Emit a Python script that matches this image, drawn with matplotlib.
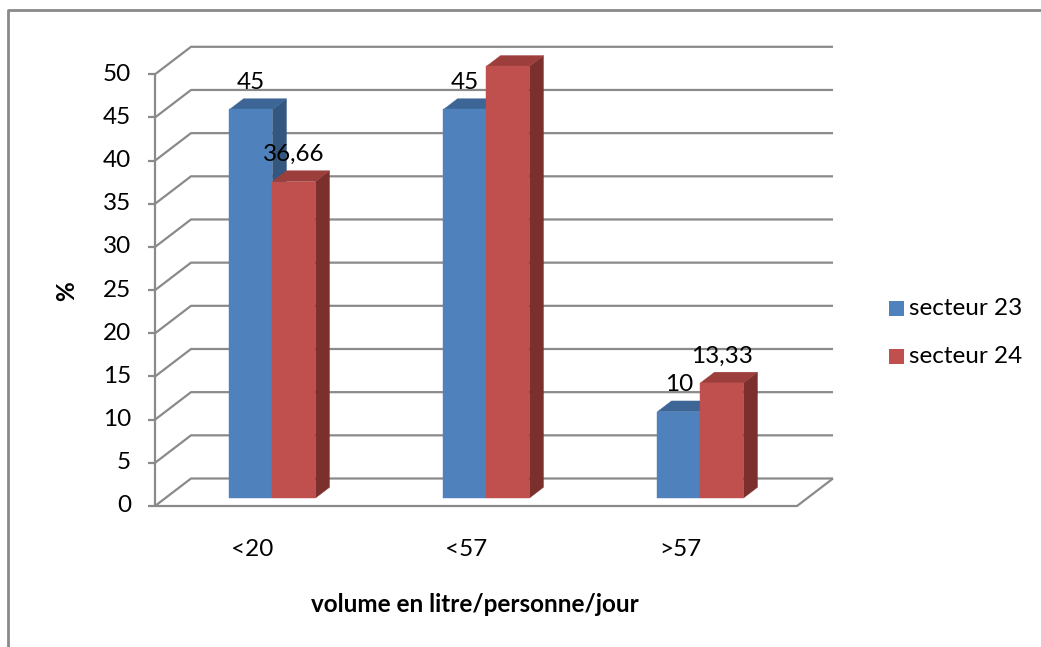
import matplotlib.pyplot as plt
from matplotlib.patches import Polygon, Rectangle
from matplotlib.lines import Line2D
from matplotlib.transforms import ScaledTranslation

plt.rcParams['font.family'] = ['Lato', 'DejaVu Sans']

categories = ['<20', '<57', '>57']
series_names = ['secteur 23', 'secteur 24']
secteur_23 = [45, 45, 10]
secteur_24 = [36.66, 50, 13.33]
value_labels_23 = ['45', '45', '10']
value_labels_24 = ['36,66', '50', '13,33']
yticks = [0, 5, 10, 15, 20, 25, 30, 35, 40, 45, 50]

FS = 17.5
W, H = 1041, 647
fig = plt.figure(figsize=(W / 100, H / 100), dpi=100)
fig.patch.set_facecolor('white')

# front plane of the 3d box (pixels)
left_px, right_px, bottom_px, top_px = 155, 797, 506, 74.3
ax = fig.add_axes([left_px / W, (H - bottom_px) / H,
                   (right_px - left_px) / W, (bottom_px - top_px) / H])
ax.set_xlim(-0.5, 2.5)
ax.set_ylim(0, 50)
ax.axis('off')

px_x = 3.0 / (right_px - left_px)
px_y = 50.0 / (bottom_px - top_px)
DX, DY = 36 * px_x, 27.5 * px_y      # depth of the box
F0, F1 = 0.29, 0.68                   # depth range of the bars
BW = 43 * px_x                        # bar width

grid = dict(color='#8a8a8a', lw=1.6, solid_capstyle='butt', clip_on=False, zorder=1)
shift_left = ax.transData + ScaledTranslation(-24 / 100, 0, fig.dpi_scale_trans)

# back wall gridlines and left wall diagonals
for v in yticks:
    ax.plot([-0.5, -0.5 + DX, 2.5 + DX], [v, v + DY, v + DY], **grid)
    ax.plot([-0.5 - 7 * px_x, -0.5], [v, v], **grid)
    ax.text(-0.5, v, str(v), ha='right', va='center', fontsize=FS, transform=shift_left)
# left front edge and floor outline
ax.plot([-0.5, -0.5], [0, 50], **grid)
ax.plot([-0.5, 2.5, 2.5 + DX], [0, 0, DY], **grid)

colors = {
    'secteur 23': ('#4f81bd', '#3d6696', '#34577f'),
    'secteur 24': ('#c0504d', '#9c3f3c', '#7c302e'),
}


def draw_bar(x0, v, cols):
    front, top, side = cols
    x1 = x0 + BW
    ax0, ay0 = F0 * DX, F0 * DY
    bx, by = F1 * DX, F1 * DY
    fp = [(x0 + ax0, ay0), (x1 + ax0, ay0), (x1 + ax0, v + ay0), (x0 + ax0, v + ay0)]
    tp = [(x0 + ax0, v + ay0), (x1 + ax0, v + ay0), (x1 + bx, v + by), (x0 + bx, v + by)]
    sp = [(x1 + ax0, ay0), (x1 + bx, by), (x1 + bx, v + by), (x1 + ax0, v + ay0)]
    for pts, c in ((sp, side), (tp, top), (fp, front)):
        ax.add_patch(Polygon(pts, closed=True, facecolor=c, edgecolor=c, lw=0.3,
                             clip_on=False, zorder=3))


for i, cat in enumerate(categories):
    for j, (vals, labels, name) in enumerate(((secteur_23, value_labels_23, series_names[0]),
                                              (secteur_24, value_labels_24, series_names[1]))):
        x0 = i - BW + j * BW
        draw_bar(x0, vals[i], colors[name])
        ax.annotate(labels[i], (x0 + BW / 2 + F0 * DX, vals[i] + F0 * DY),
                    xytext=(0, 27), textcoords='offset pixels',
                    ha='center', va='center', fontsize=FS, zorder=5)
    ax.annotate(cat, (i, 0), xytext=(-10, -43), textcoords='offset pixels',
                ha='center', va='center', fontsize=FS)

# axis titles
fig.text(475 / W, 1 - 604 / H, 'volume en litre/personne/jour', ha='center', va='center',
         fontsize=FS, fontweight='bold')
fig.text(67 / W, 1 - 291 / H, '%', ha='center', va='center', rotation=90,
         fontsize=FS, fontweight='bold')

# legend
for k, name in enumerate(series_names):
    yc = 308.5 + 48 * k
    fig.add_artist(Rectangle((889 / W, 1 - (yc + 7.5) / H), 15 / W, 15 / H,
                             transform=fig.transFigure, facecolor=colors[name][0],
                             edgecolor='none'))
    fig.text(909 / W, 1 - yc / H, name, ha='left', va='center', fontsize=FS)

# outer chart frame
fig.add_artist(Line2D([8 / W, 8 / W, 1], [0, 1 - 10 / H, 1 - 10 / H],
                      transform=fig.transFigure, color='#8a8a8a', lw=2))

fig.savefig('out.png', dpi=100, facecolor='white')
